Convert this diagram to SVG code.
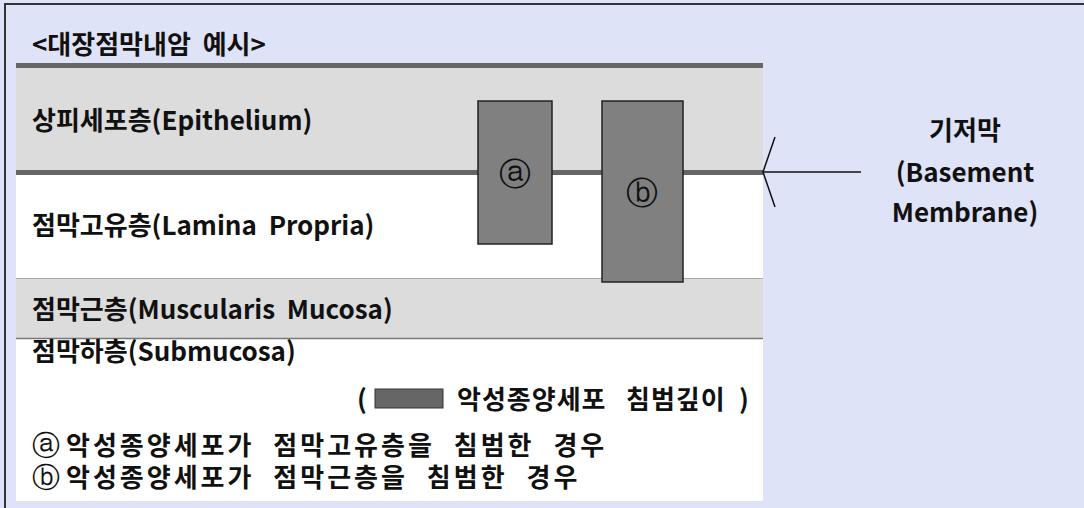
<svg xmlns="http://www.w3.org/2000/svg" width="1084" height="508" viewBox="0 0 1084 508">
<style>
.t{font-family:"Noto Sans CJK KR","Noto Sans",sans-serif;font-weight:700;font-size:26px;fill:#111;white-space:pre}
.c{font-family:"DejaVu Sans",sans-serif;font-size:32px;fill:#111;text-anchor:middle}
.ci{font-family:"DejaVu Sans",sans-serif;font-weight:400;font-size:28px;letter-spacing:0}
.ls{letter-spacing:3px;word-spacing:10px}
.ls1{letter-spacing:1px}
.box{fill:#808080;stroke:#222;stroke-width:1.5}
.thick{stroke:#666;stroke-width:5}
</style>
<defs>
<marker id="chev" markerUnits="userSpaceOnUse" markerWidth="40" markerHeight="80" refX="0" refY="0" viewBox="-20 -40 40 80" orient="auto" overflow="visible">
<path d="M-12,-35 L0,0 L-12,35" fill="none" stroke="#111" stroke-width="1.5"/>
</marker>
</defs>
<rect x="0" y="0" width="1084" height="508" fill="#dfe3f7"/>
<path d="M5,510 V4 H1090" fill="none" stroke="#333" stroke-width="2"/>
<g id="title"><text class="t" x="32" y="54">&lt;대장점막내암  예시&gt;</text></g>
<g id="layers">
<rect x="16" y="63" width="747" height="438" fill="#ffffff"/>
<rect x="16" y="66" width="747" height="106" fill="#dcdcdc"/>
<rect x="16" y="278" width="747" height="60" fill="#dcdcdc"/>
<line class="thick" x1="16" y1="65.5" x2="763" y2="65.5"/>
<line class="thick" x1="16" y1="172.5" x2="763" y2="172.5"/>
<line x1="16" y1="278.5" x2="763" y2="278.5" stroke="#aaa" stroke-width="1.2"/>
<line x1="16" y1="338.5" x2="763" y2="338.5" stroke="#777" stroke-width="1.5"/>
</g>
<g id="epithelium"><text class="t" x="32" y="130">상피세포층(Epithelium)</text></g>
<g id="lamina"><text class="t" x="32" y="235">점막고유층(Lamina  Propria)</text></g>
<g id="muscularis"><text class="t" x="32" y="319">점막근층(Muscularis  Mucosa)</text></g>
<g id="submucosa"><text class="t" x="32" y="361">점막하층(Submucosa)</text></g>
<g id="tumor-a"><rect class="box" x="478" y="101" width="74" height="143"/><text class="c" x="515" y="184.5">ⓐ</text></g>
<g id="tumor-b"><rect class="box" x="602" y="101" width="81" height="181"/><text class="c" x="642" y="203.5">ⓑ</text></g>
<g id="basement-label">
<text class="t" x="965" y="140" text-anchor="middle">기저막</text>
<text class="t" x="965" y="182" text-anchor="middle">(Basement</text>
<text class="t" x="965" y="222" text-anchor="middle">Membrane)</text>
</g>
<g id="connectors">
<line x1="861" y1="172" x2="763" y2="172" stroke="#111" stroke-width="1.5" marker-end="url(#chev)"/>
</g>
<g id="legend">
<text class="t" x="357" y="409">(</text>
<rect x="375" y="389" width="68" height="19" fill="#666" stroke="#333" stroke-width="1"/>
<text class="t ls1" y="409"><tspan x="457">악성종양세포</tspan> <tspan x="626">침범깊이</tspan> <tspan x="739">)</tspan></text>
<text class="t" y="455"><tspan x="32" class="ci">ⓐ</tspan><tspan x="66" class="ls">악성종양세포가 점막고유층을 침범한 경우</tspan></text>
<text class="t" y="487"><tspan x="32" class="ci">ⓑ</tspan><tspan x="66" class="ls">악성종양세포가 점막근층을 침범한 경우</tspan></text>
</g>
</svg>
